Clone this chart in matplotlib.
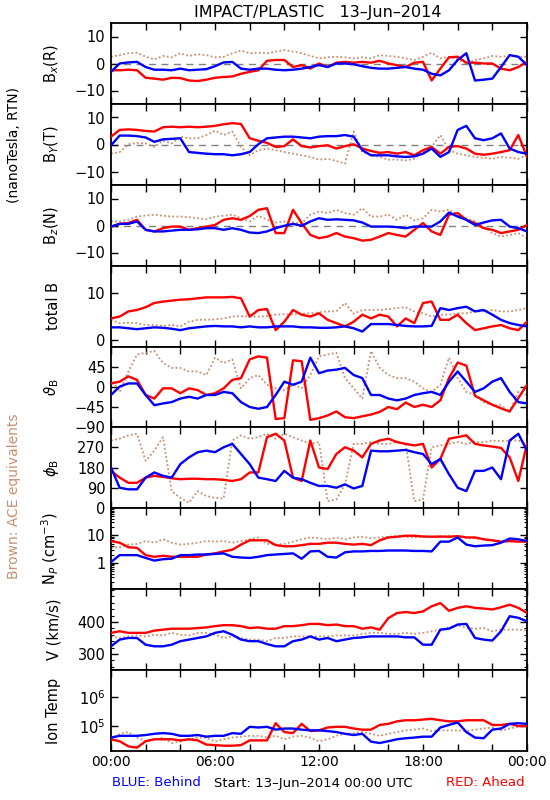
import numpy as np
import matplotlib
matplotlib.use("Agg")
import matplotlib.pyplot as plt
from matplotlib.ticker import FixedLocator, LogLocator, NullFormatter, MultipleLocator

# half-hour samples over the day (hours since 00:00 UTC)
hours = np.arange(0, 24.01, 0.5)

# magnetic field components (nT, RTN)
bx_ace = [2.5, 3.1, 3.8, 4.0, 2.5, 1.5, 2.8, 2.3, 3.8, 2.8, 3.4, 3.1, 2.3, 2.5, 3.8, 4.8, 3.8, 4.0, 3.8, 4.4,
          5.0, 4.4, 3.8, 2.8, 1.9, 2.3, 2.5, 2.3, 1.9, 2.3, 1.9, 3.1, 2.8, 2.5, 1.9, 1.3, 2.5, 4.0, 1.9, 2.5,
          1.5, 0.0, 1.3, 1.9, 2.8, 2.5, 2.8, 2.5, 2.5]
bx_behind = [-3.1, 0.0, 0.4, 0.6, -1.3, -2.3, -2.3, -2.5, -1.9, -2.5, -2.3, -2.1, -1.0, 0.4, 0.6, -1.9, -2.3, -1.9,
             -1.9, -2.3, -2.5, -2.3, -1.9, -1.3, -0.6, -1.3, 0.0, 0.0, -0.3, -1.0, -1.6, -1.9, -1.9, -1.6, -1.3,
             -1.9, -2.3, -3.8, -4.4, -2.5, 1.3, 3.8, -6.3, -6.0, -5.6, -1.3, 3.1, 2.5, -0.6]
bx_ahead = [-2.5, -2.5, -2.3, -2.5, -5.3, -5.6, -6.0, -5.3, -5.4, -6.3, -6.5, -6.0, -5.3, -5.0, -4.8, -3.8, -3.1,
            -2.5, 1.0, 1.3, 1.3, -1.3, -0.6, -1.9, 0.0, -1.3, 0.3, 0.6, 0.3, 0.6, 0.3, 1.0, 0.0, -0.6, -1.3, 0.3,
            0.6, -6.3, -1.9, 2.3, 2.5, 0.3, 0.3, 0.0, 0.0, -1.9, -2.5, -1.3, 0.6]

by_ace = [-3.4, -2.8, 0.1, 0.6, 0.4, -0.9, 1.4, 0.4, 2.9, 2.3, 2.3, 3.5, 5.1, 3.5, 4.8, -0.9, -4.0, -2.1, -1.5, -2.1,
          -2.8, -3.4, -4.0, -4.6, -5.6, -5.3, -6.1, -7.1, 4.8, -2.8, -4.0, -4.6, -5.6, -5.6, -5.9, -5.3, -2.8, -0.9,
          3.5, -2.1, -3.4, -4.0, -4.6, -4.9, -5.3, -4.6, -4.9, -5.3, -4.0]
by_behind = [-0.3, 3.3, 3.3, 3.1, 2.6, 1.0, 1.9, 2.1, 2.3, -2.8, -3.1, -3.4, -3.6, -3.6, -4.0, -3.6, -2.8, 0.1, 2.3,
             2.6, 2.9, 2.9, 2.6, 2.3, 2.9, 3.1, 3.1, 3.5, 2.9, -2.1, -4.0, -4.0, -4.0, -4.4, -4.6, -4.4, -3.4, -1.5,
             -4.6, -2.8, 5.4, 6.9, 2.3, 1.6, 2.3, 4.1, -1.5, -2.8, -3.4]
by_ahead = [2.9, 5.4, 5.6, 5.4, 5.0, 4.8, 6.4, 6.6, 6.4, 6.6, 6.4, 6.6, 6.9, 7.5, 7.9, 7.6, 2.3, 1.4, 0.6, -0.9,
            -0.6, 1.9, -0.6, -1.1, -0.6, -0.3, -1.5, -0.6, 0.1, -1.5, -2.4, -3.1, -2.8, -3.4, -2.8, -4.0, -2.1, -0.9,
            -3.4, -0.9, -0.6, -1.5, -3.4, -3.8, -3.4, -2.8, -2.1, 3.5, -4.6]

bz_ace = [1.5, 1.5, 2.1, 3.3, 3.7, 4.0, 3.6, 3.3, 3.3, 3.1, 2.7, 2.3, 3.3, 3.6, 4.0, 2.7, 1.5, 3.6, 2.1, 1.1,
          1.5, 1.1, 0.9, 4.0, 5.2, 4.6, 5.8, 4.6, 4.0, 6.4, 3.3, 3.3, 4.0, 2.1, 4.0, 1.9, 2.7, 5.8, 5.2, 5.8,
          4.0, 2.7, 1.5, -0.4, -2.8, -4.1, -3.5, -2.8, -4.7]
bz_behind = [-0.4, 0.6, 0.6, 1.5, -1.6, -2.2, -2.2, -1.9, -1.6, -1.6, -1.4, -1.0, -1.0, -1.6, -1.0, -1.6, -2.6, -2.8,
             -2.2, -1.0, -0.1, 0.6, -0.1, 1.5, 2.7, 2.1, 2.3, 2.1, 1.9, 1.1, -0.4, -0.4, -0.4, -0.6, -1.0, -0.4,
             -0.4, -0.4, 1.5, 4.8, 3.3, 2.1, 0.2, 1.1, 1.9, 2.1, -0.4, -1.0, -2.2]
bz_ahead = [-0.4, 0.6, 0.9, 2.1, -1.6, -2.2, -1.0, -0.4, -0.4, -1.6, -1.0, -0.4, 0.2, 2.1, 2.7, 2.1, 3.5, 5.8, 6.4,
            -2.8, -2.8, 5.8, 0.9, -3.5, -4.7, -4.1, -2.8, -4.1, -4.7, -5.6, -5.3, -4.1, -2.8, -3.5, -4.1, -1.6, 0.9,
            -2.2, -3.5, 4.0, 4.6, 2.1, 0.9, -1.0, -1.6, -2.8, -2.2, -1.6, 0.2]

bt_ace = [4.3, 3.6, 3.7, 3.6, 3.2, 3.2, 3.0, 3.2, 2.9, 3.9, 4.3, 4.3, 4.4, 4.6, 5.0, 5.1, 5.0, 5.0, 5.1, 5.4,
          5.5, 5.4, 5.6, 5.7, 5.9, 6.1, 6.1, 7.9, 5.6, 6.4, 6.4, 6.4, 6.6, 6.8, 7.0, 6.1, 5.7, 5.0, 5.4, 5.4,
          5.7, 5.7, 6.1, 6.1, 6.4, 6.1, 6.1, 6.4, 6.8]
bt_behind = [2.7, 2.7, 2.5, 2.3, 2.5, 2.7, 2.6, 2.4, 2.1, 2.5, 2.7, 2.9, 3.0, 2.9, 2.9, 2.7, 2.9, 2.7, 2.7, 2.9,
             2.9, 2.9, 2.7, 2.7, 2.6, 2.6, 2.7, 2.9, 2.5, 1.8, 3.4, 3.4, 3.4, 3.2, 3.0, 2.9, 2.9, 3.0, 6.8, 6.4,
             6.8, 7.1, 6.1, 6.4, 5.4, 4.3, 3.6, 3.2, 2.9]
bt_ahead = [4.6, 5.0, 6.1, 6.4, 7.0, 7.9, 8.2, 8.4, 8.6, 8.7, 8.9, 9.1, 9.1, 9.1, 9.2, 8.9, 5.0, 6.4, 6.6, 2.1,
            3.9, 6.4, 5.4, 5.0, 5.7, 4.3, 3.6, 2.9, 3.9, 5.4, 4.6, 5.4, 5.0, 2.9, 4.6, 3.6, 7.9, 8.2, 4.3, 4.3,
            5.4, 3.6, 2.1, 2.5, 2.9, 3.2, 2.5, 2.1, 3.9]

# field angles (degrees)
theta_ace = [20, -11, 35, 73, 77, 81, 54, 43, 43, 35, 35, 27, 66, 54, 62, -3, 20, 27, 5, -3, -7, 5, -3, 27, 69,
             73, 77, 20, -3, -26, 81, 43, 27, 20, 20, 12, -3, -11, 5, 66, 20, -11, -18, -34, -41, -41, -56, -11, -18]
theta_behind = [-18, 1, 8, 8, -18, -41, -37, -34, -26, -22, -26, -18, -18, -11, -14, -34, -45, -49, -45, -18, 12,
                5, 12, 66, 31, 37, 39, 43, 27, 20, -18, -18, -26, -30, -26, -18, -14, -11, -18, 12, 35, 12, -11,
                -3, 12, 20, -11, -34, -37]
theta_ahead = [8, 12, 24, 16, -18, -26, -3, -3, -14, -3, -7, -18, -14, -3, 16, 20, 62, 69, 66, -72, -70, 60, 58,
               -74, -70, -64, -55, -68, -70, -66, -62, -56, -45, -50, -35, -45, -40, -45, -30, 20, 55, 48, -20,
               -30, -40, -48, -55, -25, 5]

phi_ace = [300, 308, 323, 330, 210, 255, 315, 75, 45, 23, 75, 53, 45, 42, 300, 323, 308, 315, 330, 308, 330, 315,
           300, 285, 293, 30, 38, 105, 285, 285, 293, 285, 285, 293, 285, 30, 38, 270, 278, 285, 293, 285, 293,
           293, 300, 297, 300, 300, 285]
phi_behind = [180, 90, 83, 83, 135, 158, 143, 135, 195, 225, 248, 255, 248, 270, 285, 240, 195, 135, 128, 120,
              165, 135, 128, 112, 98, 98, 90, 105, 87, 98, 255, 252, 252, 255, 258, 248, 240, 195, 218, 150, 90,
              75, 165, 165, 180, 128, 300, 330, 255]
phi_ahead = [165, 135, 112, 112, 135, 143, 138, 132, 128, 130, 130, 128, 128, 125, 120, 128, 158, 158, 315, 330,
             300, 135, 120, 300, 180, 173, 240, 270, 255, 225, 285, 300, 308, 293, 285, 278, 285, 180, 218, 308,
             315, 323, 285, 278, 273, 267, 225, 120, 285]

# proton density (cm^-3)
np_ace = [3.5, 3.7, 4.6, 4.9, 6.2, 5.4, 7.2, 5.4, 4.6, 4.9, 5.4, 6.2, 5.9, 6.2, 5.4, 6.2, 7.2, 8.4, 4.9, 4.6,
          4.9, 5.9, 7.2, 8.4, 7.9, 7.2, 8.4, 7.2, 8.4, 8.9, 7.9, 8.4, 8.9, 9.7, 8.9, 8.4, 8.9, 9.1, 8.9, 9.7,
          8.9, 8.4, 7.9, 7.2, 6.6, 6.2, 5.9, 6.6, 6.2]
np_behind = [1.06, 1.9, 1.9, 1.9, 1.5, 1.2, 1.35, 1.4, 1.9, 1.9, 2.0, 2.0, 2.1, 2.2, 1.65, 1.55, 1.5, 1.65, 1.9,
             2.0, 2.1, 2.2, 1.4, 2.6, 2.7, 1.65, 1.55, 2.4, 2.6, 2.6, 2.7, 2.7, 2.8, 2.8, 2.8, 2.7, 2.7, 2.6, 5.9,
             5.9, 8.4, 4.6, 4.0, 4.25, 4.4, 5.4, 7.7, 7.2, 6.2]
np_ahead = [6.2, 5.4, 3.7, 3.5, 1.9, 1.65, 1.8, 1.65, 1.65, 1.65, 1.65, 2.0, 2.2, 2.6, 3.0, 4.6, 6.6, 6.6, 6.6,
            4.4, 4.0, 4.0, 4.4, 4.9, 4.9, 5.4, 5.4, 4.9, 4.6, 4.9, 4.4, 6.6, 8.4, 8.9, 9.7, 9.7, 9.1, 8.9, 9.1,
            8.9, 9.4, 8.4, 8.4, 7.2, 6.6, 5.9, 6.2, 5.9, 5.9]

# bulk speed (km/s)
v_ace = [355, 350, 355, 358, 355, 360, 358, 366, 360, 358, 366, 366, 360, 350, 355, 350, 345, 345, 340, 350,
         350, 355, 355, 355, 355, 355, 358, 358, 358, 363, 366, 366, 363, 363, 366, 363, 366, 371, 376, 383,
         390, 381, 379, 381, 371, 376, 376, 376, 373]
v_behind = [324, 345, 350, 350, 329, 324, 324, 329, 340, 345, 350, 355, 366, 371, 360, 345, 340, 340, 331, 324,
            324, 340, 345, 355, 345, 350, 340, 345, 350, 352, 355, 355, 355, 355, 352, 352, 329, 329, 376, 379,
            392, 394, 350, 345, 342, 371, 418, 413, 402]
v_ahead = [366, 371, 366, 366, 366, 373, 376, 379, 379, 379, 381, 383, 387, 390, 390, 387, 381, 383, 379, 379,
           387, 387, 390, 394, 394, 390, 392, 387, 387, 379, 383, 376, 412, 428, 431, 428, 433, 449, 459, 435,
           444, 449, 444, 442, 439, 446, 454, 444, 428]

# ion temperature (thousands of K)
t_ace = [35, 54, 62, 40, 30, 35, 40, 26, 29, 35, 40, 40, 29, 35, 40, 43, 46, 46, 40, 46, 35, 43, 46, 40, 30, 35,
         46, 54, 57, 62, 54, 46, 54, 62, 71, 75, 82, 67, 71, 71, 71, 67, 75, 82, 89, 71, 82, 94, 100]
t_behind = [40, 46, 46, 46, 49, 54, 57, 54, 46, 46, 49, 43, 46, 46, 57, 54, 94, 89, 94, 75, 82, 82, 75, 71, 71,
            67, 62, 54, 49, 54, 29, 26, 30, 35, 38, 40, 43, 43, 89, 109, 133, 62, 40, 38, 75, 82, 119, 125, 119]
t_ahead = [35, 30, 20, 18, 30, 35, 35, 35, 32, 35, 32, 23, 22, 21, 21, 22, 32, 32, 32, 125, 62, 57, 119, 67, 71,
           89, 94, 94, 82, 75, 75, 109, 119, 145, 158, 158, 167, 177, 158, 145, 145, 158, 158, 158, 109, 109, 119,
           100, 100]

xtick_labels = ["00:00", "06:00", "12:00", "18:00", "00:00"]

BROWN = "#c98f6f"
panels = [
    (bx_ace, bx_behind, bx_ahead, r"B$_x$(R)", (-15, 15), [-10, 0, 10], ["\u221210", "0", "10"], True, "lin"),
    (by_ace, by_behind, by_ahead, r"B$_Y$(T)", (-15, 15), [-10, 0, 10], ["\u221210", "0", "10"], True, "lin"),
    (bz_ace, bz_behind, bz_ahead, r"B$_z$(N)", (-15, 15), [-10, 0, 10], ["\u221210", "0", "10"], True, "lin"),
    (bt_ace, bt_behind, bt_ahead, "total B", (-1.5, 15.8), [0, 10], ["0", "10"], False, "lin"),
    (theta_ace, theta_behind, theta_ahead, r"$\vartheta_{\rm B}$", (-90, 90), [-90, -45, 0, 45],
     ["\u221290", "\u221245", "0", "45"], False, "lin"),
    (phi_ace, phi_behind, phi_ahead, r"$\phi_{\rm B}$", (0, 360), [0, 90, 180, 270], ["0", "90", "180", "270"],
     False, "lin"),
    (np_ace, np_behind, np_ahead, r"N$_P$ (cm$^{-3}$)", (0.11, 100), [1, 10], ["1", "10"], False, "log"),
    (v_ace, v_behind, v_ahead, "V (km/s)", (250, 503), [300, 400], ["300", "400"], False, "lin"),
    ([x * 1e3 for x in t_ace], [x * 1e3 for x in t_behind], [x * 1e3 for x in t_ahead], "Ion Temp",
     (10 ** 4.14, 10 ** 6.93), [1e5, 1e6], [r"10$^5$", r"10$^6$"], False, "logT"),
]

fig = plt.figure(figsize=(5.5, 8), dpi=100)
left, width = 111 / 550, 416 / 550
tops = [23, 104, 185, 266, 347, 427, 508, 589, 670, 751]

for i, (ace, behind, ahead, label, ylim, yt, ytl, zero, scale) in enumerate(panels):
    bottom = 1 - tops[i + 1] / 800
    height = (tops[i + 1] - tops[i]) / 800
    ax = fig.add_axes([left, bottom, width, height])
    if scale != "lin":
        ax.set_yscale("log")
    if zero:
        ax.axhline(0, color="grey", lw=1, ls=(0, (5, 4)), zorder=1)
    ax.plot(hours, ace, color=BROWN, lw=1.3, ls=(0, (1, 1.3)), zorder=2)
    ax.plot(hours, ahead, color="red", lw=1.7, zorder=3)
    ax.plot(hours, behind, color="blue", lw=1.7, zorder=4)
    ax.set_xlim(0, 24)
    ax.set_ylim(*ylim)
    ax.yaxis.set_major_locator(FixedLocator(yt))
    ax.set_yticklabels(ytl)
    if scale == "log":
        ax.yaxis.set_minor_locator(LogLocator(base=10, subs=np.arange(2, 10)))
        ax.yaxis.set_minor_formatter(NullFormatter())
    elif scale == "logT":
        ax.yaxis.set_minor_locator(FixedLocator([]))
    elif label.startswith("V"):
        ax.yaxis.set_minor_locator(MultipleLocator(20))
    ax.set_xticks(np.arange(0, 25, 2))
    if i == len(panels) - 1:
        ax.set_xticklabels([xtick_labels[k // 3] if k % 3 == 0 else "" for k in range(13)])
    else:
        ax.set_xticklabels([])
    ax.tick_params(which="major", direction="in", length=5, width=1, top=True, right=True, labelsize=10.5,
                   pad=4)
    ax.tick_params(which="minor", direction="in", length=2.5, width=0.8, left=True, right=True)
    ax.tick_params(axis="x", pad=3, labelsize=10)
    for s in ax.spines.values():
        s.set_linewidth(1.3)
    ax.set_ylabel(label, fontsize=10.5)
    ax.yaxis.set_label_coords(-0.12, 0.5)

fig.text(318 / 550, 1 - 12 / 800, "IMPACT/PLASTIC   13\u2013Jun\u20132014", ha="center", va="center", fontsize=11.5)
fig.text(14 / 550, 1 - 145 / 800, "(nanoTesla, RTN)", rotation=90, ha="center", va="center", fontsize=10)
fig.text(14 / 550, 1 - 496 / 800, "Brown: ACE equivalents", rotation=90, ha="center", va="center",
         fontsize=10, color=BROWN)
fig.text(112 / 550, 1 - 783 / 800, "BLUE: Behind", color="blue", ha="left", va="center", fontsize=9.5)
fig.text(214 / 550, 1 - 783 / 800, "Start: 13\u2013Jun\u20132014 00:00 UTC", color="black", ha="left",
         va="center", fontsize=9.5)
fig.text(525 / 550, 1 - 783 / 800, "RED: Ahead", color="red", ha="right", va="center", fontsize=9.5)

fig.savefig("out.png", dpi=100)
